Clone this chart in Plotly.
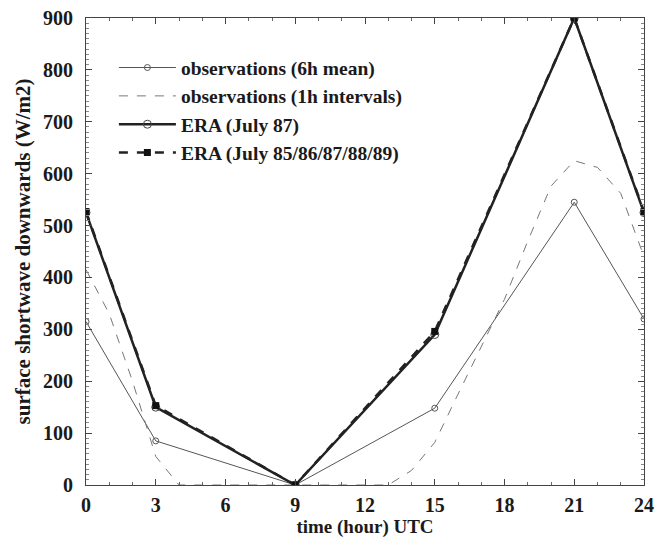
import plotly.graph_objects as go

# 6-hourly observations
obs6_x = [0, 3, 9, 15, 21, 24]
obs6_y = [315, 85, 0, 148, 545, 320]

# hourly observations
obs1_x = list(range(0, 25))
obs1_y = [415, 330, 200, 55, 0, 0, 0, 0, 0, 0, 0, 0, 0, 0, 28, 82, 175, 268, 358, 470, 576, 625, 612, 562, 440]

# ERA July 87
era87_x = [0, 3, 9, 15, 21, 24]
era87_y = [525, 150, 0, 290, 900, 525]

# ERA July 85-89
era5_x = [0, 3, 9, 15, 21, 24]
era5_y = [527, 153, 0, 296, 900, 527]

FONT = "Liberation Serif"
TXT = "#1a1a1a"

fig = go.Figure()
fig.add_trace(go.Scatter(
    x=obs6_x, y=obs6_y, mode="lines+markers", name="<b>observations (6h mean)</b>",
    line=dict(color="#555555", width=1),
    marker=dict(symbol="circle-open", size=6, color="#555555", line=dict(width=1)),
))
fig.add_trace(go.Scatter(
    x=obs1_x, y=obs1_y, mode="lines", name="<b>observations (1h intervals)</b>",
    line=dict(color="#777777", width=1, dash="dash"),
))
fig.add_trace(go.Scatter(
    x=era87_x, y=era87_y, mode="lines+markers", name="<b>ERA (July 87)</b>",
    line=dict(color="#222222", width=2.5),
    marker=dict(symbol="circle-open", size=8, color="#444444", line=dict(width=1)),
))
fig.add_trace(go.Scatter(
    x=era5_x, y=era5_y, mode="lines+markers", name="<b>ERA (July 85/86/87/88/89)</b>",
    line=dict(color="#222222", width=2.5, dash="dash"),
    marker=dict(symbol="square", size=7, color="#111111"),
))

fig.update_layout(
    width=655, height=539,
    margin=dict(l=86, r=11, t=18, b=54),
    plot_bgcolor="white", paper_bgcolor="white",
    font=dict(family=FONT, color=TXT, size=19),
    showlegend=True,
    legend=dict(
        x=0.05, y=0.935, xanchor="left", yanchor="top",
        bgcolor="rgba(0,0,0,0)", borderwidth=0,
        font=dict(family=FONT, size=19.5, color=TXT),
        itemwidth=57, tracegroupgap=0,
    ),
    xaxis=dict(
        range=[0, 24], tickmode="array", tickvals=[0, 3, 6, 9, 12, 15, 18, 21, 24],
        ticktext=["<b>%d</b>" % v for v in [0, 3, 6, 9, 12, 15, 18, 21, 24]],
        ticks="inside", ticklen=6, tickcolor="#444444", mirror="allticks",
        showline=True, linecolor="#444444", linewidth=1, showgrid=False, zeroline=False,
        minor=dict(dtick=1, ticks="inside", ticklen=3, tickcolor="#666666", showgrid=False),
        tickfont=dict(size=20, family=FONT, color=TXT), ticklabeloverflow="allow",
        ticklabelstandoff=2, automargin=False,
        title=dict(text="<b>time (hour) UTC</b>", font=dict(size=19, family=FONT, color=TXT), standoff=4),
    ),
    yaxis=dict(
        range=[0, 900], tickmode="array", tickvals=list(range(0, 1000, 100)),
        ticktext=["<b>%d</b>" % v for v in range(0, 1000, 100)],
        ticks="inside", ticklen=6, tickcolor="#444444", mirror="allticks",
        showline=True, linecolor="#444444", linewidth=1, showgrid=False, zeroline=False,
        minor=dict(dtick=10, ticks="inside", ticklen=3, tickcolor="#888888", showgrid=False),
        tickfont=dict(size=20, family=FONT, color=TXT), ticklabeloverflow="allow",
        ticklabelstandoff=8, automargin=False,
        title=dict(text="<b>surface shortwave downwards (W/m2)</b>", font=dict(size=21, family=FONT, color=TXT), standoff=6),
    ),
)

fig.write_html("out.html")
